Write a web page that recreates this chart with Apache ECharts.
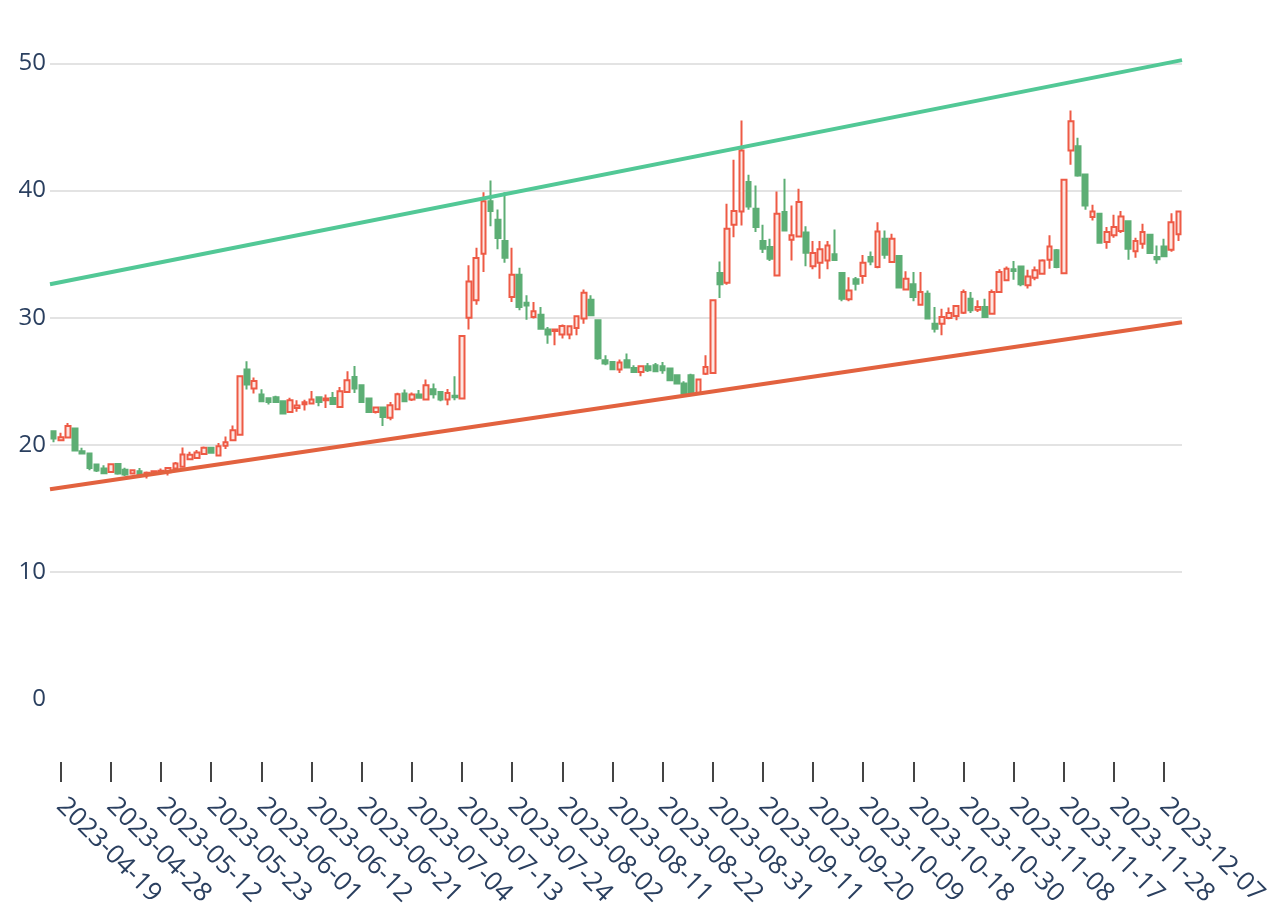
<!DOCTYPE html>
<html>
<head>
<meta charset="utf-8">
<script src="https://cdn.jsdelivr.net/npm/echarts@6/dist/echarts.min.js"></script>
<style>
html,body{margin:0;padding:0;background:#fff;}
#chart{width:1276px;height:920px;}
</style>
</head>
<body>
<div id="chart"></div>
<script>
const dates = [
"2023-04-18","2023-04-19","2023-04-20","2023-04-21","2023-04-24","2023-04-25","2023-04-26","2023-04-27","2023-04-28",
"2023-05-04","2023-05-05","2023-05-08","2023-05-09","2023-05-10","2023-05-11","2023-05-12","2023-05-15","2023-05-16","2023-05-17","2023-05-18","2023-05-19","2023-05-22","2023-05-23","2023-05-24","2023-05-25","2023-05-26","2023-05-29","2023-05-30","2023-05-31",
"2023-06-01","2023-06-02","2023-06-05","2023-06-06","2023-06-07","2023-06-08","2023-06-09","2023-06-12","2023-06-13","2023-06-14","2023-06-15","2023-06-16","2023-06-19","2023-06-20","2023-06-21","2023-06-26","2023-06-27","2023-06-28","2023-06-29","2023-06-30",
"2023-07-03","2023-07-04","2023-07-05","2023-07-06","2023-07-07","2023-07-10","2023-07-11","2023-07-12","2023-07-13","2023-07-14","2023-07-17","2023-07-18","2023-07-19","2023-07-20","2023-07-21","2023-07-24","2023-07-25","2023-07-26","2023-07-27","2023-07-28","2023-07-31",
"2023-08-01","2023-08-02","2023-08-03","2023-08-04","2023-08-07","2023-08-08","2023-08-09","2023-08-10","2023-08-11","2023-08-14","2023-08-15","2023-08-16","2023-08-17","2023-08-18","2023-08-21","2023-08-22","2023-08-23","2023-08-24","2023-08-25","2023-08-28","2023-08-29","2023-08-30","2023-08-31",
"2023-09-01","2023-09-04","2023-09-05","2023-09-06","2023-09-07","2023-09-08","2023-09-11","2023-09-12","2023-09-13","2023-09-14","2023-09-15","2023-09-18","2023-09-19","2023-09-20","2023-09-21","2023-09-22","2023-09-25","2023-09-26","2023-09-27","2023-09-28",
"2023-10-09","2023-10-10","2023-10-11","2023-10-12","2023-10-13","2023-10-16","2023-10-17","2023-10-18","2023-10-19","2023-10-20","2023-10-24","2023-10-25","2023-10-26","2023-10-27","2023-10-30","2023-10-31",
"2023-11-01","2023-11-02","2023-11-03","2023-11-06","2023-11-07","2023-11-08","2023-11-09","2023-11-10","2023-11-13","2023-11-14","2023-11-15","2023-11-16","2023-11-17","2023-11-20","2023-11-21","2023-11-22","2023-11-23","2023-11-24","2023-11-27","2023-11-28","2023-11-29","2023-11-30",
"2023-12-01","2023-12-04","2023-12-05","2023-12-06","2023-12-07","2023-12-08","2023-12-11"
];
const openP = [
21.07,20.35,20.57,21.28,19.50,19.32,18.45,18.14,17.87,18.50,18.03,17.74,17.92,17.65,17.70,17.80,17.85,18.14,18.27,18.87,
18.97,19.28,19.76,19.16,19.92,20.36,20.80,25.92,24.43,23.95,23.66,23.74,23.43,22.59,22.90,23.19,23.25,23.74,23.50,23.69,
22.98,24.16,25.34,24.69,23.64,22.59,22.93,22.12,22.80,24.03,23.56,23.95,23.56,24.37,24.16,23.56,23.87,23.64,30.00,31.37,
35.04,39.17,37.71,36.03,31.63,33.39,31.18,30.06,30.24,29.07,28.96,28.69,28.69,29.19,29.93,31.42,29.80,26.65,26.52,25.92,
26.65,26.05,25.73,26.18,26.26,26.18,26.00,25.47,24.82,25.47,24.03,25.60,25.65,33.52,32.75,37.32,38.36,40.67,38.58,36.03,
35.56,33.33,38.31,36.14,36.40,36.71,34.06,34.33,34.51,34.99,33.52,31.45,33.02,33.28,34.77,33.99,36.22,34.39,34.85,32.23,
32.63,31.03,31.89,29.53,29.53,29.98,30.13,30.40,31.50,30.63,30.84,30.32,32.02,32.94,33.81,34.04,32.55,33.15,33.47,34.57,
35.30,33.49,43.16,43.50,41.27,37.92,38.18,35.95,36.48,36.82,37.60,35.24,35.82,36.53,34.77,35.61,35.35,36.56
];
const closeP = [
20.50,20.60,21.49,19.55,19.32,18.18,17.98,17.77,18.47,17.74,17.66,18.00,17.63,17.80,17.92,17.95,18.18,18.53,19.24,19.21,
19.39,19.76,19.37,19.89,20.20,21.15,25.40,24.74,25.03,23.43,23.37,23.37,22.46,23.50,23.09,23.35,23.56,23.37,23.64,23.21,
24.21,25.08,24.43,23.37,22.59,22.93,22.19,23.11,23.98,23.43,23.95,23.71,24.69,23.98,23.56,24.08,23.74,28.56,32.86,34.69,
39.17,38.39,36.27,34.72,33.39,30.84,30.97,30.50,29.14,28.69,29.07,29.35,29.32,30.11,31.97,30.19,26.81,26.39,25.94,26.47,
26.08,25.73,26.18,25.86,25.79,25.86,25.08,24.82,24.03,24.03,25.13,26.13,31.37,32.63,37.00,38.39,43.16,38.76,37.13,35.43,
34.65,38.18,36.87,36.48,39.10,35.11,35.09,35.38,35.69,34.54,31.50,32.15,32.68,34.33,34.43,36.79,34.96,36.22,32.37,33.07,
31.63,32.02,29.93,29.14,30.06,30.37,30.92,32.02,30.58,30.84,30.06,32.02,33.59,33.86,33.67,32.63,33.25,33.73,34.51,35.61,
33.99,40.85,45.46,41.19,38.84,38.36,35.90,36.74,37.13,37.97,35.43,36.03,36.74,35.09,34.61,34.83,37.52,38.36
];
const lowP = [
20.20,20.30,20.50,19.50,19.28,18.00,17.87,17.70,17.80,17.65,17.55,17.70,17.60,17.35,17.65,17.70,17.58,18.10,18.20,18.85,
18.95,19.25,19.35,19.10,19.68,20.30,20.75,24.35,24.03,23.35,23.17,23.30,22.40,22.55,22.60,22.70,23.20,23.03,22.90,23.15,
22.95,24.10,24.08,23.30,22.55,22.46,21.49,21.93,22.75,23.40,23.45,23.68,23.50,23.64,23.43,23.11,23.50,23.60,29.07,31.03,
33.59,37.19,35.38,34.33,31.23,30.58,29.85,29.93,29.08,27.96,27.83,28.36,28.30,28.62,29.53,30.15,26.70,26.26,25.90,25.65,
26.00,25.70,25.39,25.73,25.75,25.60,25.05,24.75,24.00,23.95,23.95,25.50,25.60,31.55,32.60,36.34,37.26,38.50,36.74,35.09,
34.46,33.30,36.80,34.51,36.35,34.06,33.81,33.07,33.81,34.50,31.29,31.30,32.15,32.68,34.12,33.90,34.65,34.30,32.30,32.20,
31.29,30.95,29.90,28.83,28.62,29.88,29.80,30.30,30.37,30.45,30.00,30.30,31.95,32.90,32.99,32.47,32.29,32.94,33.40,33.86,
33.90,33.45,42.03,41.10,38.50,37.66,35.85,35.43,36.30,36.66,34.57,34.72,35.43,35.05,34.25,34.80,35.20,36.03
];
const highP = [
21.10,20.95,21.72,21.35,19.76,19.35,18.50,18.40,18.50,18.50,18.20,18.00,18.18,17.90,17.95,18.14,18.25,18.65,19.78,19.45,
19.60,19.87,19.80,20.15,20.65,21.52,25.45,26.57,25.29,24.37,23.70,23.87,23.45,23.70,23.50,23.55,24.24,23.80,23.95,24.16,
24.55,25.79,26.20,24.70,23.70,22.95,22.95,23.37,24.10,24.35,24.11,24.32,25.13,24.82,24.20,24.39,25.39,28.60,34.12,35.51,
39.88,40.80,38.52,39.88,35.51,33.94,31.76,31.23,30.84,29.27,29.14,29.46,29.35,30.20,32.23,31.76,29.85,27.04,26.60,26.71,
27.18,26.26,26.20,26.44,26.44,26.52,26.05,25.55,25.00,25.60,25.15,27.04,31.40,34.43,38.96,42.43,45.52,41.25,40.41,37.32,
36.22,39.94,40.93,38.84,40.15,37.19,36.03,36.03,36.03,36.95,33.60,33.18,33.20,34.94,35.22,37.52,36.87,36.61,34.90,33.65,
33.59,33.59,32.15,30.84,30.71,30.80,31.00,32.23,32.02,31.37,31.50,32.23,33.81,34.04,34.46,34.10,33.78,34.04,34.60,36.48,
35.40,40.90,46.31,44.16,41.30,38.89,38.25,37.13,38.10,38.39,37.65,36.29,37.40,36.55,35.69,36.22,38.23,38.40
];
// trend lines: value at left edge and right edge of the plot
const trendUpper = [32.63, 50.27];
const trendLower = [16.51, 29.64];
const yTicks = [0, 10, 20, 30, 40, 50];

const candleData = dates.map((d, i) => [openP[i], closeP[i], lowP[i], highP[i]]);
const FONT = '"Open Sans", "Liberation Sans", sans-serif';
const TXT = '#2a3f5f';
const showTick = (idx) => (idx - 1) % 7 === 0;

const chart = echarts.init(document.getElementById('chart'), null, {renderer: 'canvas'});
chart.setOption({
  animation: false,
  backgroundColor: '#ffffff',
  grid: [
    {left: 50, right: 94, top: 0, bottom: 221, containLabel: false},
    {left: 50, right: 94, top: 700, bottom: 158, containLabel: false}
  ],
  xAxis: [
    {
      type: 'category', gridIndex: 0, data: dates, boundaryGap: true,
      axisLine: {show: false}, axisTick: {show: false}, axisLabel: {show: false},
      splitLine: {show: false}
    },
    {type: 'value', gridIndex: 0, min: 0, max: 1, show: false},
    {
      type: 'category', gridIndex: 1, data: dates, boundaryGap: true, position: 'bottom',
      axisLine: {show: false},
      axisTick: {
        show: true, alignWithLabel: true, length: 20,
        interval: showTick,
        lineStyle: {color: '#444444', width: 2}
      },
      axisLabel: {
        interval: showTick,
        rotate: -45, margin: 40,
        fontSize: 26, fontFamily: FONT, color: TXT
      },
      splitLine: {show: false}
    }
  ],
  yAxis: [
    {
      type: 'value', gridIndex: 0, min: 0, max: 55, interval: 10,
      axisLine: {show: false}, axisTick: {show: false},
      axisLabel: {
        margin: 4, fontSize: 24, fontFamily: FONT, color: TXT,
        formatter: (v) => yTicks.indexOf(v) >= 0 ? String(v) : ''
      },
      splitLine: {show: true, showMinLine: false, showMaxLine: false, lineStyle: {color: '#e3e3e3', width: 2}}
    },
    {type: 'value', gridIndex: 1, min: 0, max: 1, show: false}
  ],
  series: [
    {
      type: 'candlestick', xAxisIndex: 0, yAxisIndex: 0,
      data: candleData,
      barWidth: '72%',
      itemStyle: {
        color: '#fde6e2', borderColor: '#ee5a45',
        color0: '#5dae75', borderColor0: '#5dae75',
        borderWidth: 2
      },
      z: 2
    },
    {
      type: 'line', xAxisIndex: 1, yAxisIndex: 0, symbol: 'none',
      data: trendUpper.map((v, i) => [i, v]),
      lineStyle: {color: '#52c896', width: 4},
      z: 3
    },
    {
      type: 'line', xAxisIndex: 1, yAxisIndex: 0, symbol: 'none',
      data: trendLower.map((v, i) => [i, v]),
      lineStyle: {color: '#e2623f', width: 4},
      z: 3
    }
  ]
});
</script>
</body>
</html>
